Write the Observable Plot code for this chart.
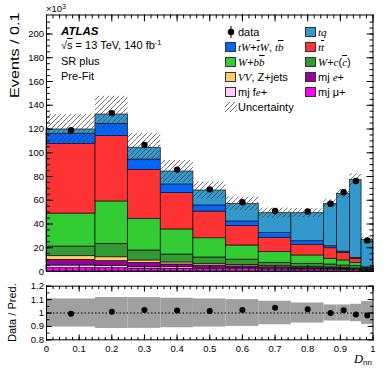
<!DOCTYPE html>
<html><head><meta charset="utf-8">
<script src="https://cdn.jsdelivr.net/npm/d3@7"></script>
<script src="https://cdn.jsdelivr.net/npm/@observablehq/plot@0.6"></script>
<style>
body{margin:0;background:#fff;}
#wrap{position:relative;width:390px;height:377px;overflow:hidden;font-family:"Liberation Sans",Arial,sans-serif;color:#000;background:#fff;}
#wrap > svg{position:absolute;left:0;}
.t{position:absolute;white-space:nowrap;line-height:1;}
.m{font-family:"Liberation Serif","DejaVu Serif",serif;font-style:italic;}
.ov{text-decoration:overline;}
.sw{position:absolute;width:9px;height:8px;border:1px solid #333;}
sup{font-size:0.68em;vertical-align:0.5em;line-height:0;}
sub{font-size:0.68em;vertical-align:-0.3em;line-height:0;}
</style></head><body><div id="wrap"></div>
<script>
// ---- data (thousands of events) ----
const binEdges = [0, 0.15, 0.25, 0.35, 0.45, 0.55, 0.65, 0.75, 0.85, 0.89, 0.93, 0.965, 1.0];
const mjMu  = [2.8, 2.8, 2.5, 2.3, 2.2, 2.0, 1.8, 1.7, 1.5, 1.4, 1.2, 0.4];
const mjFe  = [2.2, 1.7, 1.4, 1.3, 1.0, 1.0, 0.8, 0.7, 0.6, 0.5, 0.4, 0.3];
const mjE   = [4.8, 4.2, 3.4, 2.3, 1.8, 1.3, 1.0, 0.8, 0.7, 0.6, 0.5, 0.3];
const vvZ   = [3.1, 3.3, 2.0, 1.7, 1.5, 1.3, 0.9, 0.8, 0.7, 0.6, 0.5, 0.3];
const wcc   = [8.1, 11.3, 8.4, 6.7, 5.3, 4.4, 2.8, 2.5, 2.4, 1.9, 1.9, 0.5];
const wbb   = [27.8, 35.7, 26.7, 21.1, 16.2, 11.9, 9.0, 7.0, 4.8, 4.3, 2.8, 0.8];
const ttbar = [58.7, 55.0, 41.2, 30.6, 22.5, 16.3, 12.1, 9.0, 8.9, 6.4, 3.4, 0.6];
const tw    = [8.5, 10.4, 8.7, 7.3, 5.1, 3.9, 3.9, 3.0, 1.7, 1.1, 0.8, 0.3];
const tq    = [3.6, 7.8, 9.9, 10.9, 12.6, 14.9, 16.8, 23.6, 35.7, 48.6, 65.7, 23.2];
const dataObs = [119.0, 133.4, 106.5, 85.8, 69.2, 58.3, 51.0, 50.5, 57.0, 66.8, 76.3, 26.2];
const relUnc  = [0.105, 0.116, 0.115, 0.11, 0.105, 0.10, 0.088, 0.075, 0.06, 0.06, 0.065, 0.085];

const comps = ["mj µ+", "mj fe+", "mj e+", "VV, Z+jets", "W+c(c̄)", "W+bb̄", "tt̄", "tW+t̄W, tb̄", "tq"];
const compColors = ["#ff00ff", "#ffccff", "#990099", "#ffcc66", "#339933", "#33cc33", "#ff3333", "#0066ff", "#3399cc"];

const yTicks = [0, 20, 40, 60, 80, 100, 120, 140, 160, 180, 200];
const xTicks = [0, 0.1, 0.2, 0.3, 0.4, 0.5, 0.6, 0.7, 0.8, 0.9, 1];
const xTickLabels = ["0", "0.1", "0.2", "0.3", "0.4", "0.5", "0.6", "0.7", "0.8", "0.9", "1"];
const rTicks = [0.8, 0.9, 1.0, 1.1, 1.2];
const rTickLabels = ["0.8", "0.9", "1", "1.1", "1.2"];

// ---- derived tables ----
const series = [mjMu, mjFe, mjE, vvZ, wcc, wbb, ttbar, tw, tq];
const nb = binEdges.length - 1;
const rows = [];
series.forEach((arr, k) => arr.forEach((v, i) => rows.push({x1: binEdges[i], x2: binEdges[i + 1], v, comp: comps[k]})));
const bins = d3.range(nb).map(i => {
  const total = d3.sum(series, s => s[i]);
  return {x1: binEdges[i], x2: binEdges[i + 1], xc: (binEdges[i] + binEdges[i + 1]) / 2,
          total, data: dataObs[i], unc: relUnc[i], ratio: dataObs[i] / total};
});
const xMinor = d3.range(0, 1.0001, 0.02);
const yMinor = d3.range(0, 215, 5);
const rMinor = d3.range(0.8, 1.2001, 0.05);

const shp = {
  up: {draw(c, l) { c.moveTo(0, 0); c.lineTo(0, -l); }},
  down: {draw(c, l) { c.moveTo(0, 0); c.lineTo(0, l); }},
  right: {draw(c, l) { c.moveTo(0, 0); c.lineTo(l, 0); }},
  left: {draw(c, l) { c.moveTo(0, 0); c.lineTo(-l, 0); }}
};
function frameTicks(xs, ys, len) {
  const o = {stroke: "black", strokeWidth: 1, anchor: "start", length: len};
  return [
    Plot.vector(xs, {...o, x: d => d, frameAnchor: "bottom", shape: shp.up}),
    Plot.vector(xs, {...o, x: d => d, frameAnchor: "top", shape: shp.down}),
    Plot.vector(ys, {...o, y: d => d, frameAnchor: "left", shape: shp.right}),
    Plot.vector(ys, {...o, y: d => d, frameAnchor: "right", shape: shp.left})
  ];
}
const style = {fontFamily: "Liberation Sans, Arial, sans-serif", fontSize: "9.5px", background: "transparent", overflow: "visible", color: "black"};

const main = Plot.plot({
  width: 390, height: 280, marginTop: 14.5, marginBottom: 9, marginLeft: 46, marginRight: 17.5,
  x: {domain: [0, 1], axis: null},
  y: {domain: [0, 216]},
  color: {domain: comps, range: compColors},
  style,
  marks: [
    Plot.rectY(rows, {x1: "x1", x2: "x2", y: "v", fill: "comp", stroke: "#111", strokeWidth: 0.7}),
    Plot.rect(bins, {x1: "x1", x2: "x2", y1: d => d.total * (1 - d.unc), y2: d => d.total * (1 + d.unc), fill: "url(#hatch)"}),
    Plot.dot(bins, {x: "xc", y: "data", r: 3.2, fill: "black"}),
    Plot.frame({stroke: "black", strokeWidth: 1}),
    ...frameTicks(xTicks, yTicks, 6),
    ...frameTicks(xMinor, yMinor, 3),
    Plot.axisY({ticks: yTicks, tickSize: 0, tickPadding: 2.5, label: null, anchor: "left", fontSize: 9.5})
  ]
});

const ratio = Plot.plot({
  width: 390, height: 97, marginTop: 5.7, marginBottom: 37.7, marginLeft: 46, marginRight: 17.5,
  x: {domain: [0, 1]},
  y: {domain: [0.8, 1.2]},
  style,
  marks: [
    Plot.rect(bins, {x1: "x1", x2: "x2", y1: d => 1 - d.unc, y2: d => 1 + d.unc, fill: "#a0a0a0"}),
    Plot.ruleY([1], {stroke: "black", strokeWidth: 1, strokeDasharray: "1.5,2"}),
    Plot.dot(bins, {x: "xc", y: "ratio", r: 3, fill: "black"}),
    Plot.frame({stroke: "black", strokeWidth: 1}),
    ...frameTicks(xTicks, rTicks, 5),
    ...frameTicks(xMinor, rMinor, 2.5),
    Plot.axisY({ticks: rTicks, tickSize: 0, tickPadding: 2.5, label: null, anchor: "left", fontSize: 9.5,
                tickFormat: d => rTickLabels[rTicks.indexOf(d)]}),
    Plot.axisX({ticks: xTicks, tickSize: 0, tickPadding: 5.5, label: null, anchor: "bottom", fontSize: 9.5,
                tickFormat: d => xTickLabels[xTicks.indexOf(d)]})
  ]
});

// hatch pattern
const NS = "http://www.w3.org/2000/svg";
const defs = document.createElementNS(NS, "defs");
const pat = document.createElementNS(NS, "pattern");
pat.setAttribute("id", "hatch"); pat.setAttribute("patternUnits", "userSpaceOnUse");
pat.setAttribute("width", "5"); pat.setAttribute("height", "5");
const pp = document.createElementNS(NS, "path");
pp.setAttribute("d", "M-1,1 l2,-2 M0,5 l5,-5 M4,6 l2,-2");
pp.setAttribute("stroke", "#444"); pp.setAttribute("stroke-width", "0.75"); pp.setAttribute("fill", "none");
pat.appendChild(pp); defs.appendChild(pat); main.insertBefore(defs, main.firstChild);

const wrap = document.getElementById("wrap");
main.style.top = "0px"; ratio.style.top = "280px";
wrap.appendChild(main); wrap.appendChild(ratio);

// ---- text ----
function addText(html, left, baseline, size, cls = "") {
  const d = document.createElement("div");
  d.className = "t " + cls;
  d.style.left = left + "px"; d.style.top = (baseline - 0.85 * size) + "px"; d.style.fontSize = size + "px";
  d.innerHTML = html; wrap.appendChild(d); return d;
}
function addRot(text, xLeft, yTop, size, s) {
  const d = document.createElement("div");
  d.className = "t"; d.style.fontSize = size + "px"; d.textContent = text;
  d.style.transformOrigin = "0 0"; d.style.left = "0px"; d.style.top = "0px";
  wrap.appendChild(d);
  const w = d.offsetWidth;
  d.style.left = xLeft + "px"; d.style.top = (yTop + s * w) + "px";
  d.style.transform = `rotate(-90deg) scale(${s},1)`;
}
addRot("Events / 0.1", 8.5, 12.5, 12, 1.35);
addRot("Data / Pred.", 7.2, 283, 11, 1);
addText("×10<sup>3</sup>", 46, 12, 9.5);

const atlas = addText("ATLAS", 61, 35.3, 11.5);
atlas.style.fontWeight = "bold"; atlas.style.fontStyle = "italic";
addText('√<span class="ov">s</span> = 13 TeV, 140 fb<sup>-1</sup>', 61, 49.2, 11);
addText("SR plus", 61, 65, 11);
addText("Pre-Fit", 61, 80.5, 11);

addText('<span class="m" style="font-size:12.5px">D</span><sub style="font-size:8px">nn</sub>', 354, 363.5, 12.5);

// legend
const rowY = [32, 47.3, 62.3, 77.3, 92.3, 107.3];
const colX = [224.5, 304.5];
const legend = [
  {c: 1, r: 0, k: 8, html: '<span class="m">tq</span>'},
  {c: 0, r: 1, k: 7, html: '<span class="m">tW</span>+<span class="m"><span class="ov">t</span>W</span>, <span class="m">t<span class="ov">b</span></span>'},
  {c: 1, r: 1, k: 6, html: '<span class="m">t<span class="ov">t</span></span>'},
  {c: 0, r: 2, k: 5, html: '<span class="m">W</span>+<span class="m">b<span class="ov">b</span></span>'},
  {c: 1, r: 2, k: 4, html: '<span class="m">W</span>+<span class="m">c</span>(<span class="m ov">c</span>)'},
  {c: 0, r: 3, k: 3, html: '<span class="m">VV</span>, Z+jets'},
  {c: 1, r: 3, k: 2, html: 'mj <span class="m">e</span>+'},
  {c: 0, r: 4, k: 1, html: 'mj f<span class="m">e</span>+'},
  {c: 1, r: 4, k: 0, html: 'mj μ+'}
];
for (const it of legend) {
  const sw = document.createElement("div");
  sw.className = "sw"; sw.style.background = compColors[it.k];
  sw.style.left = colX[it.c] + "px"; sw.style.top = (rowY[it.r] - 5) + "px";
  wrap.appendChild(sw);
  addText(it.html, colX[it.c] + 13.5, rowY[it.r] + 4, 11);
}
// data marker
wrap.insertAdjacentHTML("beforeend",
  `<svg style="position:absolute;left:${colX[0]}px;top:${rowY[0] - 7}px" width="12" height="14">
     <line x1="6" x2="6" y1="1" y2="13" stroke="black" stroke-width="1"/>
     <circle cx="6" cy="7" r="3.2" fill="black"/></svg>`);
addText("data", colX[0] + 13.5, rowY[0] + 4, 11);
// uncertainty marker
wrap.insertAdjacentHTML("beforeend",
  `<svg style="position:absolute;left:${colX[0]}px;top:${rowY[5] - 5}px" width="12" height="10">
     <rect x="0" y="0" width="12" height="10" fill="url(#hatch)"/></svg>`);
addText("Uncertainty", colX[0] + 13.5, rowY[5] + 4, 11);
</script></body></html>
